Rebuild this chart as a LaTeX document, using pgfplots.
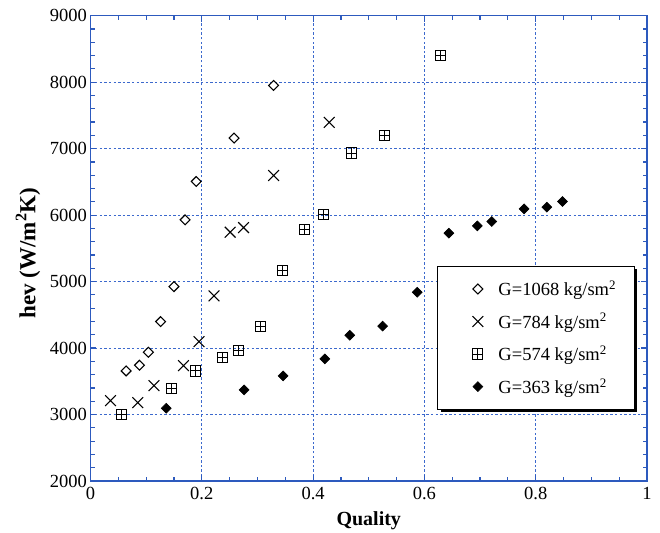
\documentclass[border=0pt]{standalone}
\usepackage{fontspec}
\setmainfont{Liberation Serif}
\usepackage{pgfplots}
\usepackage{pgfplotstable}
\pgfplotsset{compat=1.18}
\usetikzlibrary{shadows}

\definecolor{axisblue}{RGB}{45,90,190}
\definecolor{gridblue}{RGB}{60,105,205}

% square with a centred cross (boxed plus)
\pgfdeclareplotmark{boxplus}{%
  \pgfpathrectangle{\pgfpoint{-\pgfplotmarksize}{-\pgfplotmarksize}}%
                   {\pgfpoint{2\pgfplotmarksize}{2\pgfplotmarksize}}%
  \pgfpathmoveto{\pgfpoint{-\pgfplotmarksize}{0pt}}%
  \pgfpathlineto{\pgfpoint{\pgfplotmarksize}{0pt}}%
  \pgfpathmoveto{\pgfpoint{0pt}{-\pgfplotmarksize}}%
  \pgfpathlineto{\pgfpoint{0pt}{\pgfplotmarksize}}%
  \pgfusepathqstroke}

% G = 1068 kg/sm^2
\pgfplotstableread{
q h
0.064 3656
0.088 3742
0.104 3937
0.126 4398
0.150 4925
0.170 5929
0.190 6506
0.258 7159
0.329 7951
}\tabA

% G = 784 kg/sm^2
\pgfplotstableread{
q h
0.036 3209
0.085 3179
0.114 3435
0.167 3736
0.195 4097
0.222 4785
0.251 5743
0.275 5813
0.329 6596
0.429 7394
}\tabB

% G = 574 kg/sm^2
\pgfplotstableread{
q h
0.055 3003
0.145 3395
0.189 3656
0.237 3862
0.266 3962
0.305 4323
0.345 5166
0.384 5778
0.418 6014
0.469 6933
0.529 7194
0.629 8398
}\tabC

% G = 363 kg/sm^2
\pgfplotstableread{
q h
0.136 3094
0.276 3370
0.346 3581
0.421 3837
0.466 4193
0.525 4330
0.587 4840
0.644 5728
0.695 5838
0.721 5904
0.779 6094
0.820 6120
0.848 6205
}\tabD

\newcommand{\lgstrut}{\rule[0pt]{0pt}{14.6pt}}

\begin{document}
\begin{tikzpicture}
\path[use as bounding box] (-90.5pt,-51pt) rectangle (569.5pt,481pt);
\begin{axis}[
  at={(0,0)}, anchor=south west,
  scale only axis, width=556.5pt, height=465.3pt,
  xmin=0, xmax=1, ymin=2000, ymax=9000,
  xtick={0,0.2,0.4,0.6,0.8,1},
  ytick={2000,3000,4000,5000,6000,7000,8000,9000},
  minor x tick num=3, minor y tick num=4,
  scaled x ticks=false, scaled y ticks=false,
  /pgf/number format/1000 sep={},
  /pgf/number format/assume math mode=true,
  tick label style={font=\fontsize{18.5}{22}\selectfont, black},
  x tick label style={yshift=-3pt},
  xmajorgrids, ymajorgrids,
  every major grid/.style={draw=gridblue, color=gridblue, line width=1.1pt, dash pattern=on 2.4pt off 2.2pt},
  every major x grid/.style={draw=gridblue, color=gridblue},
  axis line style={draw=axisblue, line width=1.6pt},
  tick style={draw=axisblue, line width=1.2pt},
  major tick length=6pt, minor tick length=4.5pt,
  tick align=inside,
  every axis x label/.style={at={(axis description cs:0.5,0)}, yshift=-40pt, anchor=center,
    font=\fontsize{20}{24}\selectfont\bfseries},
  every axis y label/.style={at={(axis description cs:-0.1123,0.49)}, rotate=90, anchor=center,
    font=\fontsize{23}{27}\selectfont\bfseries},
  xlabel={Quality},
  ylabel={hev (W/m\textsuperscript{2}K)},
  legend image code/.code={%
    \path (0pt,0pt) (41.7pt,0pt);
    \draw[#1] plot coordinates {(21.7pt,0pt)};},
  legend cell align=left,
  legend style={at={(rel axis cs:0.6226,0.4627)}, anchor=north west,
    draw=black, line width=1.2pt, fill=white,
    inner xsep=18pt, inner ysep=14.5pt, row sep=16.2pt,
    nodes={inner sep=0pt},
    font=\fontsize{18.5}{22}\selectfont,
    drop shadow={shadow xshift=3pt, shadow yshift=-3pt, fill=black, opacity=1}},
]
\addplot[only marks, mark=square, mark size=3.5pt,
  mark options={rotate=45, black, line width=1.1pt}] table[x=q, y=h] {\tabA};
\addlegendentry{\lgstrut G=1068 kg/sm\textsuperscript{2}}
\addplot[only marks, mark=x, mark size=7.6pt,
  mark options={black, line width=1.1pt}] table[x=q, y=h] {\tabB};
\addlegendentry{\lgstrut G=784 kg/sm\textsuperscript{2}}
\addplot[only marks, mark=boxplus, mark size=5.1pt,
  mark options={black, line width=1pt}] table[x=q, y=h] {\tabC};
\addlegendentry{\lgstrut G=574 kg/sm\textsuperscript{2}}
\addplot[only marks, mark=square*, mark size=3.5pt,
  mark options={rotate=45, black, fill=black, line width=0.6pt}] table[x=q, y=h] {\tabD};
\addlegendentry{\lgstrut G=363 kg/sm\textsuperscript{2}}
\end{axis}
\end{tikzpicture}
\end{document}
